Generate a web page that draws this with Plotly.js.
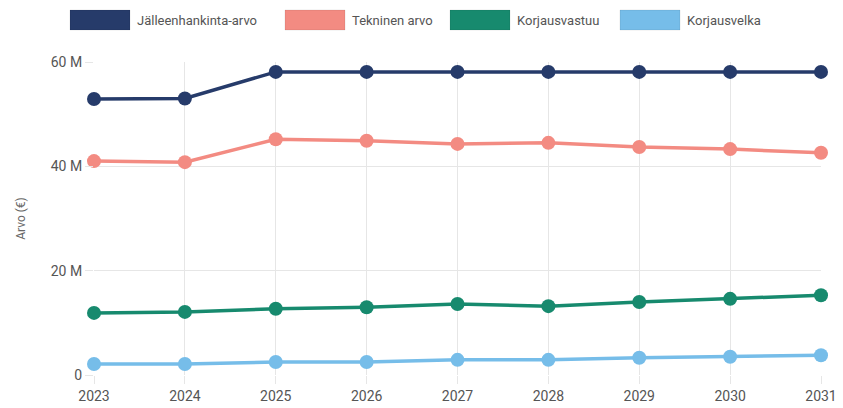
<!DOCTYPE html>
<html>
<head>
<meta charset="utf-8">
<script src="https://cdn.plot.ly/plotly-3.0.1.min.js"></script>
<style>html,body{margin:0;padding:0;background:#fff;}#chart{width:843px;height:408px;}</style>
</head>
<body>
<div id="chart"></div>
<script>
const years = [2023, 2024, 2025, 2026, 2027, 2028, 2029, 2030, 2031];
const seriesNames = ["Jälleenhankinta-arvo", "Tekninen arvo", "Korjausvastuu", "Korjausvelka"];
const jalleenhankinta = [52.9e6, 53.0e6, 58.1e6, 58.1e6, 58.1e6, 58.1e6, 58.1e6, 58.1e6, 58.1e6];
const tekninen = [41.0e6, 40.8e6, 45.2e6, 44.9e6, 44.3e6, 44.5e6, 43.7e6, 43.3e6, 42.6e6];
const korjausvastuu = [11.9e6, 12.1e6, 12.7e6, 13.0e6, 13.6e6, 13.2e6, 14.0e6, 14.6e6, 15.3e6];
const korjausvelka = [2.1e6, 2.1e6, 2.5e6, 2.5e6, 2.9e6, 2.9e6, 3.3e6, 3.5e6, 3.8e6];
const yTickVals = [0, 20e6, 40e6, 60e6];
const yTickText = ["0", "20 M", "40 M", "60 M"];
const colors = ["#263b6a", "#f38b82", "#178a6e", "#76bde9"];
const allValues = [jalleenhankinta, tekninen, korjausvastuu, korjausvelka];

const FONT = "'Liberation Sans Narrow', 'Roboto', sans-serif";
const traces = allValues.map((vals, i) => ({
  type: "scatter", mode: "lines+markers", x: years, y: vals, name: seriesNames[i],
  line: {color: colors[i], width: 3.5},
  marker: {color: colors[i], size: 14},
  cliponaxis: false, showlegend: false,
  hovertemplate: "%{x}: %{y}<extra>" + seriesNames[i] + "</extra>"
}));

// custom legend (rectangular swatches)
const L = 94, W = 727, B = 375, H = 313;
const px = v => (v - L) / W;
const py = v => (B - v) / H;
const boxX = [70, 285, 450, 620];
const shapes = [], annotations = [];
seriesNames.forEach((n, i) => {
  shapes.push({type: "rect", xref: "paper", yref: "paper",
    x0: px(boxX[i]), x1: px(boxX[i] + 60), y0: py(30), y1: py(10),
    fillcolor: colors[i], line: {color: "rgba(0,0,0,0.08)", width: 1}});
  annotations.push({xref: "paper", yref: "paper", x: px(boxX[i] + 65), y: py(20),
    xanchor: "left", yanchor: "middle", text: n, showarrow: false,
    font: {family: FONT, size: 13, color: "#555"}});
});

const layout = {
  width: 843, height: 408,
  margin: {l: 94, r: 22, t: 62, b: 33},
  paper_bgcolor: "#fff", plot_bgcolor: "#fff",
  font: {family: FONT, size: 13, color: "#555"},
  showlegend: false,
  xaxis: {
    range: [2023, 2031], tickvals: years, ticktext: years.map(String),
    showgrid: true, gridcolor: "#e6e6e6", gridwidth: 1,
    ticks: "outside", ticklen: 8, tickcolor: "#e6e6e6",
    zeroline: false, showline: false,
    tickfont: {family: FONT, size: 14, color: "#555"}
  },
  yaxis: {
    range: [0, 60e6], tickvals: yTickVals, ticktext: yTickText,
    showgrid: true, gridcolor: "#e6e6e6", gridwidth: 1,
    ticks: "outside", ticklen: 8, tickcolor: "#e6e6e6",
    zeroline: false, showline: false,
    tickfont: {family: FONT, size: 14, color: "#555"},
    title: {text: "Arvo (€)", standoff: 22, font: {family: FONT, size: 12, color: "#666"}}
  },
  shapes: shapes, annotations: annotations
};
Plotly.newPlot("chart", traces, layout, {displayModeBar: false, staticPlot: true});
</script>
</body>
</html>
